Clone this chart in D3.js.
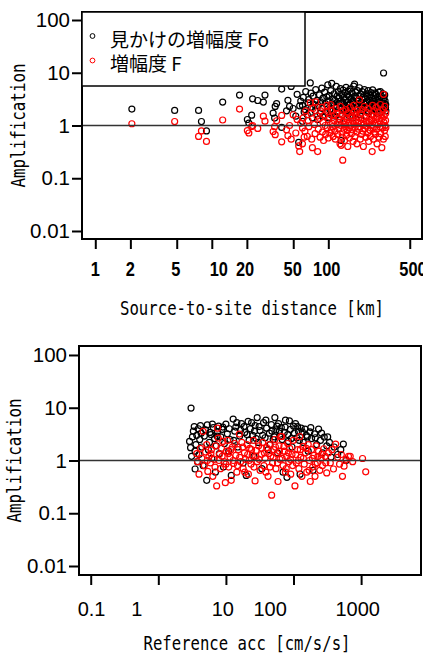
<!DOCTYPE html>
<html>
<head>
<meta charset="utf-8">
<script src="https://cdn.jsdelivr.net/npm/d3@7"></script>
<style>
body { margin: 0; background: #fff; }
</style>
</head>
<body>
<div id="chart"></div>
<script>
// ---- data: top panel, one entry per record (distance, apparent amp Fo, amp F)
const distance = [
    2.06, 4.8, 7.7, 8.15, 9.0, 12.4, 17.3, 20.2, 20.8, 22.0,
    22.4, 24.8, 27.7, 28.6, 33.6, 34.6, 35.0, 36.0, 39.8, 39.8,
    43.8, 45, 46.5, 48, 49.9, 52.6, 54, 55.7, 56.8, 58,
    60, 60, 61, 62, 63, 64, 66, 67, 68, 70,
    71, 72, 73, 74, 76, 77, 78, 80, 81, 82,
    84, 85, 86, 88, 89, 90, 91, 93, 94, 95,
    97, 98, 99, 100, 100, 102, 103, 105, 106, 107,
    108, 109, 110, 112, 113, 114, 115, 117, 118, 119,
    120, 122, 123, 124, 126, 127, 128, 129, 130, 131,
    132, 133, 134, 135, 136, 138, 139, 140, 141, 142,
    143, 145, 146, 147, 148, 150, 151, 152, 154, 155,
    156, 158, 159, 160, 162, 163, 165, 166, 168, 169,
    170, 172, 173, 175, 176, 178, 180, 181, 183, 185,
    186, 188, 190, 191, 193, 195, 196, 198, 200, 202,
    204, 206, 208, 210, 212, 214, 216, 218, 220, 222,
    224, 226, 228, 230, 232, 234, 236, 238, 240, 242,
    244, 246, 248, 250, 252, 254, 256, 258, 260, 262,
    265, 268, 270, 272, 275, 277, 280, 282, 285, 288,
    290, 292, 295, 297, 298, 300, 302, 304, 305, 307,
    308, 310, 311, 312
];
const foByDist = [
    2.05, 1.93, 1.93, 1.19, 0.79, 2.78, 3.77, 1.30, 1.11, 1.57,
    3.2, 2.98, 2.78, 3.77, 1.72, 1.38, 2.3, 2.6, 4.9, 0.92,
    1.9, 3.0, 2.3, 5.5, 2.1, 1.5, 3.9, 0.48, 2.36, 2.9,
    2.4, 1.2, 3.4, 1.8, 2.0, 4.4, 1.6, 2.7, 3.1, 6.4,
    4.1, 2.2, 1.4, 3.6, 2.5, 1.9, 4.8, 3.0, 1.3, 2.4,
    3.8, 1.7, 2.8, 5.1, 2.1, 3.3, 1.5, 4.3, 2.6, 1.8,
    3.5, 2.3, 5.9, 2.9, 1.4, 3.7, 2.0, 4.6, 1.6, 6.3,
    2.7, 3.2, 1.9, 4.0, 2.4, 3.0, 1.5, 5.5, 2.2, 3.6,
    1.8, 4.4, 2.6, 3.3, 1.3, 5.0, 2.9, 0.52, 3.9, 2.1,
    1.6, 2.8, 4.7, 2.5, 3.4, 1.9, 4.2, 2.3, 3.1, 5.3,
    1.7, 2.7, 3.8, 2.0, 4.5, 2.4, 3.5, 1.5, 4.9, 2.6,
    3.2, 1.8, 4.1, 2.2, 3.0, 1.4, 5.6, 2.8, 6.1, 3.6,
    2.1, 4.3, 2.5, 3.3, 1.7, 4.6, 2.9, 2.0, 3.7, 5.2,
    2.4, 1.6, 3.9, 2.7, 2.2, 4.4, 3.1, 1.9, 3.5, 2.6,
    4.8, 2.1, 3.3, 1.5, 4.0, 2.8, 3.6, 2.3, 4.6, 1.8,
    3.0, 2.5, 3.8, 2.0, 4.2, 2.7, 3.4, 1.6, 4.75, 2.9,
    2.2, 3.7, 1.9, 4.1, 2.6, 3.2, 2.0, 3.9, 2.4, 1.7,
    3.5, 2.8, 4.3, 2.1, 3.1, 2.5, 4.4, 1.8, 3.6, 2.3,
    3.0, 2.7, 4.0, 2.0, 9.9, 3.3, 2.6, 2.2, 3.8, 2.9,
    2.2, 2.2, 2.5, 1.9
];
const fByDist = [
    1.08, 1.19, 0.62, 0.79, 0.50, 1.27, 2.05, 0.80, 0.72, 0.96,
    1.0, 0.88, 1.5, 1.21, 0.77, 0.95, 0.67, 1.23, 1.55, 0.49,
    0.83, 0.64, 1.0, 0.55, 1.6, 0.72, 1.3, 0.41, 0.32, 1.1,
    0.9, 0.45, 1.4, 0.6, 0.78, 1.9, 0.62, 1.25, 0.95, 2.7,
    1.7, 0.55, 0.38, 2.1, 1.05, 0.7, 2.8, 1.5, 0.32, 0.85,
    1.35, 0.6, 1.9, 2.2, 0.75, 1.15, 0.52, 1.6, 1.0, 0.68,
    2.4, 0.9, 1.8, 1.3, 0.58, 1.45, 0.72, 2.5, 0.82, 1.9,
    1.1, 0.95, 0.62, 1.55, 1.25, 0.78, 0.55, 2.1, 1.7, 1.05,
    0.68, 1.35, 0.88, 1.15, 0.45, 2.3, 1.0, 0.42, 1.6, 0.72,
    0.6, 0.22, 1.9, 1.2, 0.85, 0.52, 1.45, 1.05, 0.95, 2.0,
    0.65, 1.3, 0.8, 0.4, 1.7, 1.1, 0.9, 0.58, 2.2, 1.4,
    1.0, 0.7, 1.55, 0.83, 1.2, 0.5, 2.4, 1.08, 1.8, 0.62,
    0.92, 1.6, 1.25, 0.75, 0.45, 1.95, 1.15, 0.85, 1.4, 3.07,
    0.95, 0.55, 1.7, 1.1, 0.68, 2.0, 1.3, 0.78, 0.4, 1.05,
    2.3, 0.88, 1.45, 0.6, 1.2, 0.98, 1.75, 0.72, 2.1, 0.5,
    1.15, 1.35, 0.82, 0.62, 1.6, 1.0, 1.25, 0.32, 2.4, 0.9,
    0.55, 1.5, 0.75, 1.9, 1.1, 0.68, 1.3, 2.2, 0.85, 0.45,
    1.45, 1.05, 1.8, 0.6, 1.2, 0.95, 2.5, 0.7, 1.6, 0.38,
    1.35, 0.9, 2.0, 0.55, 3.9, 1.15, 1.5, 0.8, 2.3, 1.0,
    0.62, 1.25, 1.7, 0.92
];

// ---- data: bottom panel, black = Fo vs reference acc, red = F vs reference acc
const accFo = [
    3.05, 2.9, 3.0, 3.1, 3.2, 3.3, 3.4, 3.5, 3.5, 3.6,
    3.7, 3.8, 3.9, 4.0, 4.1, 4.2, 4.3, 4.4, 4.6, 4.8,
    5.0, 5.2, 5.3, 5.5, 5.7, 5.8, 6.0, 6.2, 6.3, 6.5,
    6.8, 7.0, 7.2, 7.4, 7.5, 7.8, 8.0, 8.4, 8.8, 9.0,
    9.2, 9.5, 10, 10.5, 11, 11.2, 11.5, 12, 12.8, 13,
    13.5, 14, 14.5, 15, 16, 16.5, 17, 18, 18.5, 19,
    20, 20.5, 21.3, 22, 23, 24, 25, 26, 26.5, 27,
    28, 29, 30, 31, 32, 34, 35, 36, 38, 39,
    40, 42, 44, 45, 47, 48, 50, 52, 53, 55,
    57, 58, 60, 62, 63, 66, 68, 70, 73, 75,
    76, 80, 82, 84, 87, 90, 93, 95, 100, 103,
    107, 112, 115, 118, 122, 125, 130, 135, 140, 148,
    155, 160, 165, 175, 180, 185, 195, 205, 210, 220,
    235, 250, 260, 270, 285, 310, 320, 340, 360, 400,
    450, 500, 546, 600
];
const foByAcc = [
    9.85, 2.3, 1.75, 1.2, 2.8, 3.6, 4.4, 0.69, 1.5, 2.0,
    3.0, 0.95, 4.0, 1.3, 2.5, 4.6, 3.3, 1.8, 0.8, 2.9,
    3.8, 0.42, 4.75, 1.6, 2.2, 3.4, 3.1, 1.1, 4.9, 4.2,
    2.6, 0.6, 1.9, 2.9, 3.5, 4.5, 1.35, 2.8, 3.9, 4.3,
    0.75, 2.1, 4.9, 3.2, 1.5, 4.0, 2.5, 0.52, 6.1, 2.4,
    3.6, 4.3, 5.2, 1.8, 2.9, 3.8, 5.0, 0.9, 4.4, 3.4,
    0.52, 3.1, 5.5, 2.4, 4.0, 5.2, 3.0, 1.2, 3.6, 4.6,
    2.6, 6.5, 2.2, 4.4, 3.7, 0.7, 3.0, 5.2, 2.7, 5.8,
    4.1, 1.6, 3.3, 2.0, 4.8, 3.6, 2.5, 2.8, 6.5, 3.8,
    4.5, 1.4, 5.0, 3.6, 2.9, 4.2, 2.5, 0.6, 3.4, 4.3,
    5.8, 0.48, 3.1, 2.3, 5.65, 3.9, 2.6, 1.8, 4.5, 3.3,
    5.0, 2.7, 4.4, 3.6, 2.4, 0.55, 4.1, 3.5, 2.2, 3.94,
    3.0, 2.8, 1.5, 3.5, 4.2, 2.6, 0.65, 3.2, 2.7, 2.0,
    3.94, 2.4, 3.3, 1.4, 2.78, 1.9, 2.8, 2.2, 1.16, 1.8,
    1.3, 1.6, 2.05, 1.0
];
const accF = [
    3.7, 3.8, 4.0, 4.2, 4.4, 4.6, 4.8, 5.0, 5.2, 5.3,
    5.4, 5.6, 5.9, 6.0, 6.1, 6.4, 6.7, 6.9, 7.0, 7.3,
    7.5, 7.7, 7.9, 8.0, 8.3, 8.6, 8.8, 9.0, 9.4, 9.8,
    10, 10.2, 10.6, 10.9, 11, 11.5, 11.8, 12, 12.5, 12.8,
    13, 13.5, 14, 14.5, 14.8, 15.2, 15.8, 16, 16.5, 17.2,
    17.8, 18, 18.8, 19, 19.5, 20.5, 21, 21.5, 22, 22.5,
    23.5, 24, 24.5, 25.5, 26, 27, 27.5, 28, 29, 30.5,
    31, 32, 33.5, 34, 35, 36.5, 37, 38, 39, 40,
    42, 43, 44, 45, 46, 47.5, 49, 50, 51, 53,
    54, 55, 57, 58, 59, 61, 62, 63, 65, 67,
    68, 70, 72, 73, 76, 78, 79, 82, 84, 85,
    88, 90, 91, 95, 97, 99, 105, 108, 110, 115,
    118, 120, 124, 126, 128, 133, 138, 140, 144, 150,
    155, 157, 165, 170, 172, 177, 185, 190, 192, 200,
    208, 210, 216, 225, 230, 235, 245, 255, 260, 268,
    280, 295, 300, 310, 330, 350, 370, 390, 420, 450,
    480, 510, 530, 560, 600, 650, 690, 750, 1050, 1170
];
const fByAcc = [
    1.35, 0.95, 0.55, 1.7, 1.1, 3.55, 0.8, 1.45, 2.0, 1.0,
    0.62, 1.2, 0.9, 1.35, 1.6, 0.5, 1.05, 0.75, 1.9, 0.33,
    4.1, 2.66, 1.0, 1.3, 0.7, 1.7, 1.2, 2.3, 0.95, 0.38,
    0.85, 1.5, 2.4, 1.35, 0.75, 1.15, 1.6, 0.42, 1.8, 1.0,
    0.88, 2.1, 1.25, 0.6, 0.8, 1.6, 3.17, 1.15, 0.95, 2.2,
    1.8, 0.7, 1.4, 0.6, 1.05, 2.0, 1.3, 0.55, 1.0, 1.7,
    0.85, 1.6, 1.25, 2.4, 0.75, 0.41, 1.2, 1.55, 0.95, 1.9,
    1.05, 0.65, 1.3, 1.7, 2.2, 0.8, 1.4, 1.1, 0.6, 1.75,
    0.5, 1.35, 2.0, 0.75, 1.2, 0.22, 0.9, 1.15, 1.6, 2.5,
    1.8, 0.7, 1.35, 0.9, 0.4, 1.9, 1.5, 1.05, 2.85, 2.85,
    1.1, 0.8, 1.85, 1.5, 0.6, 0.7, 1.2, 2.1, 1.4, 0.95,
    1.7, 1.05, 0.55, 1.3, 0.8, 2.4, 0.33, 1.3, 0.9, 1.6,
    1.0, 0.7, 2.85, 1.6, 1.15, 0.5, 1.85, 1.1, 0.85, 1.4,
    1.7, 0.6, 2.0, 0.65, 1.0, 0.4, 1.6, 1.1, 0.75, 1.25,
    0.5, 0.85, 1.9, 0.9, 1.2, 1.5, 0.65, 1.1, 1.3, 0.8,
    1.67, 1.2, 0.9, 0.58, 1.4, 0.9, 1.6, 0.69, 2.05, 1.15,
    0.85, 1.3, 0.5, 0.78, 1.05, 1.2, 1.2, 0.95, 1.09, 0.61
];

// ---- axis ticks and labels
const ampTicks = [100, 10, 1, 0.1, 0.01];
const ampLabels = ['100', '10', '1', '0.1', '0.01'];
const distTicks = [1, 2, 5, 10, 20, 50, 100, 500];
const distLabels = ['1', '2', '5', '10', '20', '50', '100', '500'];
const distLabelAt = [1, 2, 4.9, 11.5, 19.3, 49.5, 97, 533];   // where the labels sit in the picture
const accTicks = [0.1, 1, 10, 100, 1000];
const accLabels = ['0.1', '1', '10', '100', '1000'];
const accLabelAt = [0.103, 0.48, 9.0, 45, 890];
const legendLabels = ['見かけの増幅度 Fo', '増幅度 F'];
const seriesColors = ['#000000', '#ff0000'];

const chart_width = 423;
const chart_height = 656;
const point_r = 3.0;
const mono = '"DejaVu Sans Mono", "Liberation Mono", monospace';
const sans = '"Liberation Sans", Arial, sans-serif';

const svg = d3.select('#chart')
    .append('svg')
    .attr('width', chart_width)
    .attr('height', chart_height);

function drawPanel(p) {
    const x = d3.scaleLog().domain(p.xDomain).range([p.left, p.right]);
    const y = d3.scaleLog().domain(p.yDomain).range([p.bottom, p.top]);
    const g = svg.append('g');

    // points: black series first, red on top
    p.series.forEach((s, k) => {
        g.append('g').selectAll('circle')
            .data(d3.range(s.x.length))
            .enter()
            .append('circle')
            .attr('cx', i => x(s.x[i]))
            .attr('cy', i => y(s.y[i]))
            .attr('r', point_r)
            .attr('fill', 'none')
            .attr('stroke', seriesColors[k])
            .attr('stroke-width', 1.2);
    });

    // reference line at amplification 1
    g.append('line')
        .attr('x1', p.left).attr('x2', p.right)
        .attr('y1', y(1)).attr('y2', y(1))
        .attr('stroke', '#333').attr('stroke-width', 1.3);

    // y axis
    const yAxis = g.append('g')
        .attr('transform', `translate(${p.left},0)`)
        .call(d3.axisLeft(y).tickValues(ampTicks)
            .tickFormat((d, i) => ampLabels[i]).tickSize(10).tickPadding(2));
    yAxis.select('.domain').remove();
    yAxis.selectAll('line').attr('stroke', '#000').attr('stroke-width', 2);
    yAxis.selectAll('text')
        .attr('font-family', sans).attr('font-size', 20.5).attr('fill', '#000');

    // x axis ticks
    const xAxis = g.append('g')
        .attr('transform', `translate(0,${p.bottom})`)
        .call(d3.axisBottom(x).tickValues(p.xTicks).tickFormat('').tickSize(10));
    xAxis.select('.domain').remove();
    xAxis.selectAll('line').attr('stroke', '#000').attr('stroke-width', 2);

    // x tick labels
    g.append('g').selectAll('text')
        .data(p.xLabels)
        .enter()
        .append('text')
        .text(d => d)
        .attr('transform', (d, i) => `translate(${x(p.xLabelAt[i])},${p.xLabelY}) scale(${p.xLabelScale},1)`)
        .attr('text-anchor', 'middle')
        .attr('font-family', sans)
        .attr('font-weight', p.xLabelWeight)
        .attr('font-size', p.xLabelSize);

    // box
    g.append('rect')
        .attr('x', p.left).attr('y', p.top)
        .attr('width', p.right - p.left).attr('height', p.bottom - p.top)
        .attr('fill', 'none').attr('stroke', '#000').attr('stroke-width', 2);

    // axis titles
    g.append('text')
        .text(p.xTitle)
        .attr('x', p.xTitleX).attr('y', p.xTitleY)
        .attr('text-anchor', 'middle')
        .attr('font-family', mono).attr('font-size', 20)
        .attr('textLength', p.xTitleLen).attr('lengthAdjust', 'spacingAndGlyphs');
    g.append('text')
        .text('Amplification')
        .attr('transform', `translate(${p.yTitleX},${(p.top + p.bottom) / 2}) rotate(-90)`)
        .attr('text-anchor', 'middle')
        .attr('font-family', mono).attr('font-size', 20)
        .attr('textLength', 124).attr('lengthAdjust', 'spacingAndGlyphs');

    return g;
}

const top_panel = drawPanel({
    left: 82, right: 422, top: 12, bottom: 239,
    xDomain: [0.769, 637], yDomain: [0.00705, 141.8],
    xTicks: distTicks, xLabels: distLabels, xLabelAt: distLabelAt,
    xLabelY: 276, xLabelSize: 21, xLabelScale: 0.78, xLabelWeight: 'bold',
    xTitle: 'Source-to-site distance [km]', xTitleX: 252, xTitleY: 315, xTitleLen: 264,
    yTitleX: 25,
    series: [{x: distance, y: foByDist}, {x: distance, y: fByDist}]
});

drawPanel({
    left: 79, right: 421, top: 346, bottom: 575,
    xDomain: [0.0671, 7690], yDomain: [0.00675, 148],
    xTicks: accTicks, xLabels: accLabels, xLabelAt: accLabelAt,
    xLabelY: 616, xLabelSize: 20, xLabelScale: 1, xLabelWeight: 'normal',
    xTitle: 'Reference acc [cm/s/s]', xTitleX: 247, xTitleY: 650, xTitleLen: 207,
    yTitleX: 21,
    series: [{x: accFo, y: foByAcc}, {x: accF, y: fByAcc}]
});

// legend in the top panel
const legend = top_panel.append('g');
legend.append('rect')
    .attr('x', 82).attr('y', 12).attr('width', 223).attr('height', 74)
    .attr('fill', '#fff').attr('stroke', '#000').attr('stroke-width', 1.5);
legendLabels.forEach((label, i) => {
    legend.append('circle')
        .attr('cx', 92.5).attr('cy', 36 + i * 24.5).attr('r', 2.4)
        .attr('fill', 'none').attr('stroke', seriesColors[i]).attr('stroke-width', 1);
    legend.append('text')
        .text(label)
        .attr('x', 110).attr('y', 47 + i * 23.5)
        .attr('font-family', '"Noto Sans CJK JP", sans-serif')
        .attr('font-size', 19);
});
</script>
</body>
</html>
